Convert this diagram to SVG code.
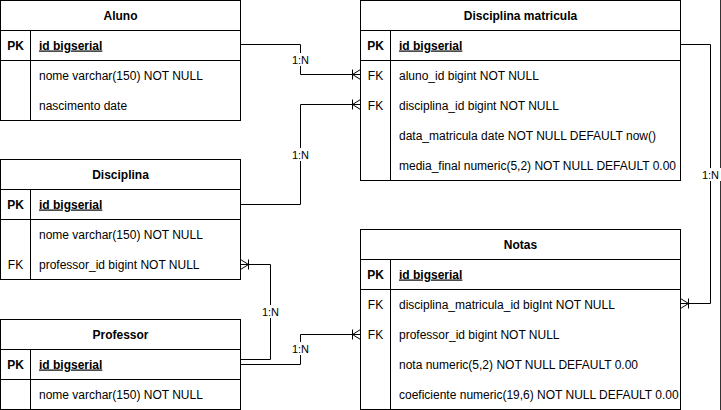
<svg xmlns="http://www.w3.org/2000/svg" width="721" height="410" viewBox="0 0 721 410">
<style>
.box{fill:#fff;stroke:#000;stroke-width:1}
.ln{stroke:#000;stroke-width:1;fill:none}
text{font-family:"Liberation Sans",Arial,Helvetica,sans-serif;font-size:12px;fill:#000}
.t{font-weight:bold;text-anchor:middle}
.pk{font-weight:bold;text-anchor:middle}
.fk{text-anchor:middle}
.id{font-weight:bold;text-decoration:underline}
.lbl{font-size:11px;text-anchor:middle}
.lb{fill:#fff;stroke:none}
.edge{stroke:#000;stroke-width:1;fill:none;marker-end:url(#many)}
</style>
<defs>
<marker id="many" viewBox="0 0 10 12" refX="10" refY="6" markerWidth="10" markerHeight="12" markerUnits="userSpaceOnUse" orient="auto">
<path d="M2,1 V11 M2,6 L10,1 M2,6 L10,11" fill="none" stroke="#000" stroke-width="1"/>
</marker>
</defs>
<rect width="721" height="410" fill="#fff"/>
<line x1="720.5" y1="0" x2="720.5" y2="410" stroke="#333" stroke-width="1"/>

<g id="connectors">
<path class="edge" d="M240.5,44.5 H300.5 V74.5 H360.5"/>
<path class="edge" d="M240.5,204.5 H300.5 V104.5 H360.5"/>
<path class="edge" d="M240.5,359.5 H270.5 V264.5 H240.5"/>
<path class="edge" d="M240.5,364.5 H300.5 V334.5 H360.5"/>
<path class="edge" d="M680.5,44.5 H710.5 V303.5 H680.5"/>
<rect class="lb" x="290" y="53" width="21" height="13"/>
<text class="lbl" x="300.5" y="63.5">1:N</text>
<rect class="lb" x="290" y="148" width="21" height="13"/>
<text class="lbl" x="300.5" y="158.5">1:N</text>
<rect class="lb" x="260" y="305" width="21" height="13"/>
<text class="lbl" x="270.5" y="315.5">1:N</text>
<rect class="lb" x="290" y="342" width="21" height="13"/>
<text class="lbl" x="300.5" y="352.5">1:N</text>
<rect class="lb" x="700" y="168" width="21" height="13"/>
<text class="lbl" x="710.5" y="178.5">1:N</text>
</g>

<g id="aluno">
<rect class="box" x="0.5" y="0.5" width="240" height="120"/>
<path class="ln" d="M0.5,30.5 H240.5 M0.5,60.5 H240.5 M30.5,30.5 V120.5"/>
<text class="t" x="120.5" y="19.5">Aluno</text>
<text class="pk" x="15.5" y="49.5">PK</text>
<text class="id" x="39" y="49.5">id bigserial</text>
<text x="39" y="79.5">nome varchar(150) NOT NULL</text>
<text x="39" y="109.5">nascimento date</text>
</g>

<g id="disciplina-matricula">
<rect class="box" x="360.5" y="0.5" width="320" height="180"/>
<path class="ln" d="M360.5,30.5 H680.5 M360.5,60.5 H680.5 M390.5,30.5 V180.5"/>
<text class="t" x="520.5" y="19.5">Disciplina matricula</text>
<text class="pk" x="375.5" y="49.5">PK</text>
<text class="id" x="399" y="49.5">id bigserial</text>
<text class="fk" x="375.5" y="79.5">FK</text>
<text x="399" y="79.5">aluno_id bigint NOT NULL</text>
<text class="fk" x="375.5" y="109.5">FK</text>
<text x="399" y="109.5">disciplina_id bigint NOT NULL</text>
<text x="399" y="139.5">data_matricula date NOT NULL DEFAULT now()</text>
<text x="399" y="169.5">media_final numeric(5,2) NOT NULL DEFAULT 0.00</text>
</g>

<g id="disciplina">
<rect class="box" x="0.5" y="159.5" width="240" height="120"/>
<path class="ln" d="M0.5,189.5 H240.5 M0.5,219.5 H240.5 M30.5,189.5 V279.5"/>
<text class="t" x="120.5" y="178.5">Disciplina</text>
<text class="pk" x="15.5" y="208.5">PK</text>
<text class="id" x="39" y="208.5">id bigserial</text>
<text x="39" y="238.5">nome varchar(150) NOT NULL</text>
<text class="fk" x="15.5" y="268.5">FK</text>
<text x="39" y="268.5">professor_id bigint NOT NULL</text>
</g>

<g id="professor">
<rect class="box" x="0.5" y="319.5" width="240" height="90"/>
<path class="ln" d="M0.5,349.5 H240.5 M0.5,379.5 H240.5 M30.5,349.5 V409.5"/>
<text class="t" x="120.5" y="338.5">Professor</text>
<text class="pk" x="15.5" y="368.5">PK</text>
<text class="id" x="39" y="368.5">id bigserial</text>
<text x="39" y="398.5">nome varchar(150) NOT NULL</text>
</g>

<g id="notas">
<rect class="box" x="360.5" y="229.5" width="320" height="180"/>
<path class="ln" d="M360.5,259.5 H680.5 M360.5,289.5 H680.5 M390.5,259.5 V409.5"/>
<text class="t" x="520.5" y="248.5">Notas</text>
<text class="pk" x="375.5" y="278.5">PK</text>
<text class="id" x="399" y="278.5">id bigserial</text>
<text class="fk" x="375.5" y="308.5">FK</text>
<text x="399" y="308.5">disciplina_matricula_id bigInt NOT NULL</text>
<text class="fk" x="375.5" y="338.5">FK</text>
<text x="399" y="338.5">professor_id bigint NOT NULL</text>
<text x="399" y="368.5">nota numeric(5,2) NOT NULL DEFAULT 0.00</text>
<text x="399" y="398.5">coeficiente numeric(19,6) NOT NULL DEFAULT 0.00</text>
</g>
</svg>
